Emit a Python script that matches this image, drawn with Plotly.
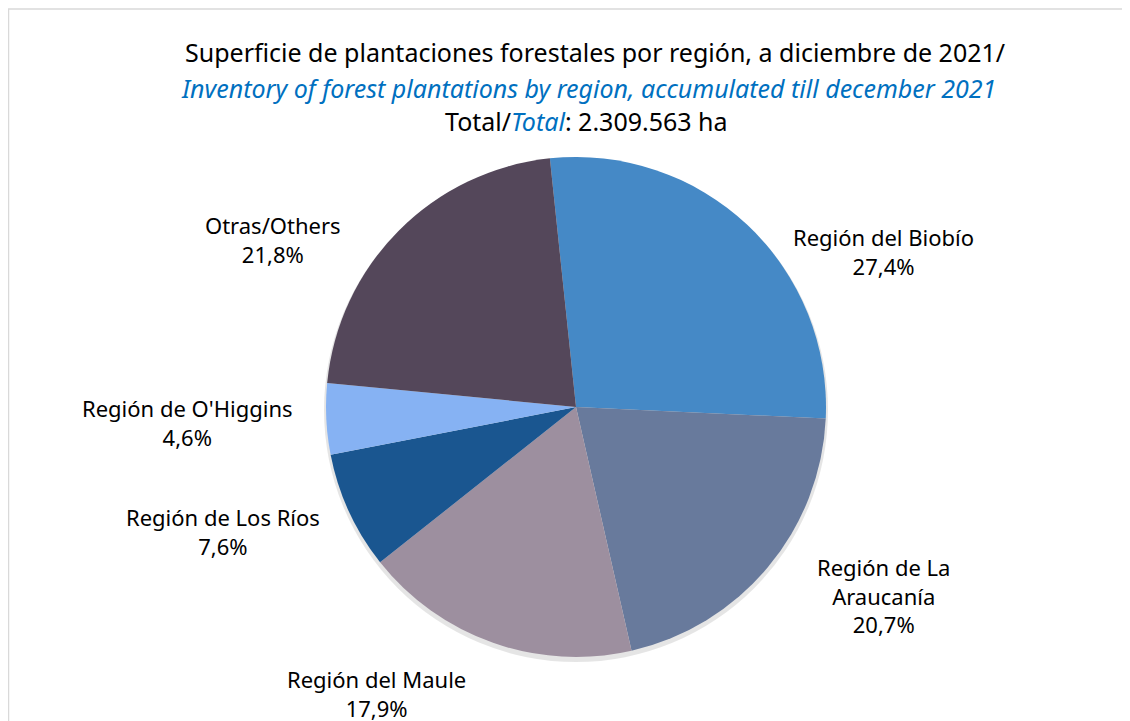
import plotly.graph_objects as go

W, H = 1130, 721

regions = ["Región del Biobío", "Región de La Araucanía", "Región del Maule",
           "Región de Los Ríos", "Región de O'Higgins", "Otras/Others"]
label_text = ["Región del Biobío", "Región de La<br>Araucanía", "Región del Maule",
              "Región de Los Ríos", "Región de O'Higgins", "Otras/Others"]
shares = [27.4, 20.7, 17.9, 7.6, 4.6, 21.8]
colors = ["#4589C6", "#687A9C", "#9D8F9F", "#1A5690", "#86B2F3", "#54475A"]

FONT = "Noto Sans"
OFF = 8  # page body offset


def px(x):
    return (x - OFF) / W


def py(y):
    return 1 - (y - OFF) / H


cx, cy, r = 576, 407, 250

fig = go.Figure()
fig.add_trace(go.Pie(
    labels=regions,
    values=shares,
    sort=False,
    direction="clockwise",
    rotation=-6,
    marker=dict(colors=colors, line=dict(width=0)),
    textinfo="none",
    hoverinfo="label+percent",
    showlegend=False,
    domain=dict(x=[px(cx - r), px(cx + r)], y=[py(cy + r), py(cy - r)]),
))

# label positions (text centres, pixels in the final page)
label_pos = [(883, 251), (883, 595), (377, 693), (223, 531), (187, 422), (273, 239)]
annotations = []
for name, val, (lx, ly) in zip(label_text, shares, label_pos):
    annotations.append(dict(
        x=px(lx), y=py(ly), xref="paper", yref="paper",
        text=f"{name}<br>{str(val).replace('.', ',')}%",
        showarrow=False, xanchor="center", yanchor="middle", align="center",
        font=dict(family=FONT, size=22, color="#000000"),
    ))

title_lines = [
    (595, 52, "Superficie de plantaciones forestales por región, a diciembre de 2021/"),
    (588, 88, "<i><span style='color:#0070C0'>Inventory of forest plantations by region, accumulated till december 2021</span></i>"),
    (586, 121, "Total/<i><span style='color:#0070C0'>Total</span></i>: 2.309.563 ha"),
]
for tx, ty, t in title_lines:
    annotations.append(dict(
        x=px(tx), y=py(ty), xref="paper", yref="paper", text=t,
        showarrow=False, xanchor="center", yanchor="middle",
        font=dict(family=FONT, size=25, color="#000000"),
    ))

shapes = [
    dict(type="circle", xref="paper", yref="paper", layer="below",
         x0=px(cx - r - 2), x1=px(cx + r + 2), y0=py(cy + r + 5), y1=py(cy - r + 1),
         fillcolor="rgba(0,0,0,0.10)", line=dict(width=0)),
    dict(type="line", xref="paper", yref="paper", x0=px(8), x1=1.0, y0=py(9), y1=py(9),
         line=dict(color="#D9D9D9", width=1.5)),
    dict(type="line", xref="paper", yref="paper", x0=px(8.5), x1=px(8.5), y0=0, y1=py(9),
         line=dict(color="#D9D9D9", width=1.5)),
]

fig.update_layout(
    width=W, height=H,
    margin=dict(l=0, r=0, t=0, b=0),
    paper_bgcolor="white", plot_bgcolor="white",
    annotations=annotations, shapes=shapes,
    font=dict(family=FONT),
)

fig.write_html("out.html")
